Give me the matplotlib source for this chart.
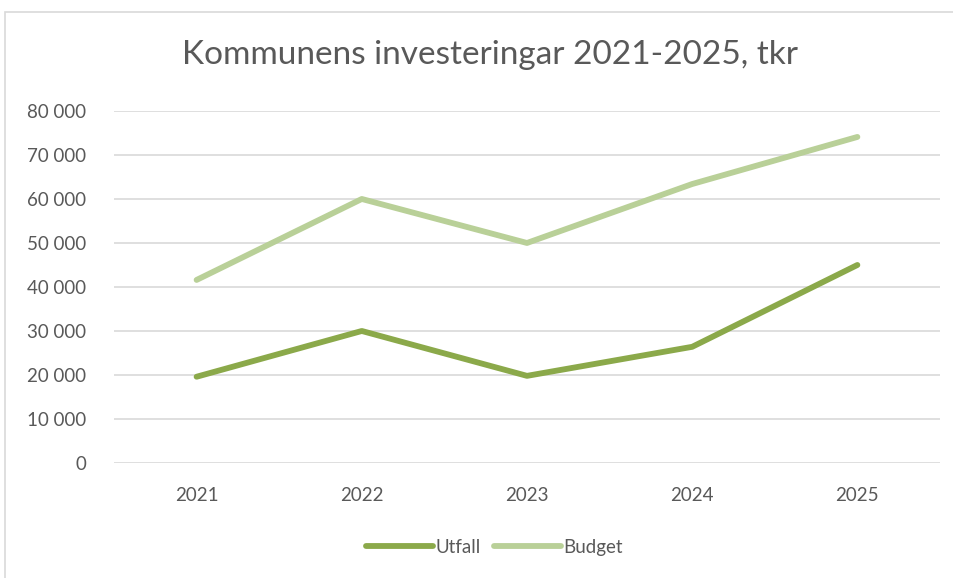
import numpy as np
import matplotlib.pyplot as plt
from matplotlib.ticker import FuncFormatter
from matplotlib.patches import Rectangle

years = ["2021", "2022", "2023", "2024", "2025"]
utfall = [19600, 30000, 19800, 26400, 45000]
budget = [41600, 60000, 50000, 63400, 74100]
yticks = [0, 10000, 20000, 30000, 40000, 50000, 60000, 70000, 80000]

text_color = "#595959"
plt.rcParams["font.family"] = ["Lato", "DejaVu Sans"]

fig = plt.figure(figsize=(9.54, 5.78), dpi=100)
ax = fig.add_axes([0.1195, 0.199, 0.8658, 0.609])

x = np.arange(len(years))
ax.plot(x, utfall, color="#8BA94A", lw=4.2, solid_capstyle="round",
        solid_joinstyle="round", label="Utfall", clip_on=False, zorder=3)
ax.plot(x, budget, color="#B9D098", lw=4.2, solid_capstyle="round",
        solid_joinstyle="round", label="Budget", clip_on=False, zorder=3)

ax.set_xlim(-0.5, len(years) - 0.5)
ax.set_ylim(0, 80000)
ax.set_yticks(yticks)
ax.yaxis.set_major_formatter(FuncFormatter(lambda v, p: f"{int(v):,}".replace(",", " ")))
ax.set_xticks(x)
ax.set_xticklabels(years)
ax.grid(axis="y", color="#d9d9d9", lw=1.2)
ax.set_axisbelow(True)
for s in ax.spines.values():
    s.set_visible(False)
ax.tick_params(length=0, labelsize=13.5, colors=text_color)
ax.tick_params(axis="y", pad=20)
ax.tick_params(axis="x", pad=17)

fig.text(0.514, 0.905, "Kommunens investeringar 2021-2025, tkr", ha="center",
         va="center", fontsize=24, color=text_color)

fig.legend(loc="center", bbox_to_anchor=(0.518, 0.053), ncol=2, frameon=False,
           fontsize=13.5, labelcolor=text_color, handlelength=3.6,
           handletextpad=0.1, columnspacing=0.7)

# chart border
fig.patches.append(Rectangle((5 / 954, -0.1), 1.2, 1.1 - 12 / 578,
                             transform=fig.transFigure, fill=False,
                             edgecolor="#d9d9d9", lw=1.2))

fig.savefig("out.png", dpi=100)
